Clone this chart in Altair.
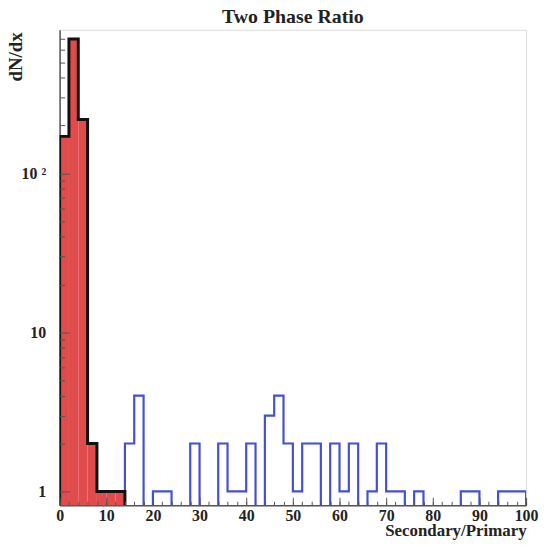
import altair as alt
import pandas as pd

# ---- data ----
bin_width = 2
red_counts = [171, 700, 218, 2, 1, 1, 1]          # bins 0-2 ... 12-14
blue_start = 14
blue_counts = [2, 4, 0, 1, 1, 0, 0, 2, 0, 0,
               2, 1, 1, 2, 0, 3, 4, 2, 1, 2,
               2, 0, 2, 1, 2, 0, 1, 2, 1, 1,
               0, 1, 0, 0, 0, 0, 1, 1, 0, 0,
               1, 1, 1]                             # bins 14-16 ... 98-100
x_major = [0, 10, 20, 30, 40, 50, 60, 70, 80, 90, 100]
x_minor = list(range(0, 101, 2))
y_major = [1, 10, 100]
y_minor = [2, 3, 4, 5, 6, 7, 8, 9, 20, 30, 40, 50, 60, 70, 80, 90,
           200, 300, 400, 500, 600, 700]

FLOOR = 0.5   # below the axis minimum; clipped away (represents empty bins)


def step_table(start, counts):
    rows = [{"x": start, "y": FLOOR, "i": 0}]
    for k, c in enumerate(counts):
        rows.append({"x": start + k * bin_width, "y": c if c > 0 else FLOOR, "i": k + 1})
    rows.append({"x": start + len(counts) * bin_width, "y": FLOOR, "i": len(counts) + 1})
    return pd.DataFrame(rows)


red_step = step_table(0, red_counts)
blue_step = step_table(blue_start, blue_counts)
red_bins = pd.DataFrame({
    "x0": [k * bin_width for k in range(len(red_counts))],
    "x1": [(k + 1) * bin_width for k in range(len(red_counts))],
    "count": red_counts,
    "base": [FLOOR] * len(red_counts),
})

W, H = 470, 479
FONT = "Liberation Serif"
AX = "#555555"

xs = alt.Scale(domain=[0, 100], nice=False, zero=False)
ys = alt.Scale(type="log", domain=[0.818, 800], nice=False)

# main axes (labels, titles, domain)
x_main = alt.Axis(orient="bottom", values=x_major, ticks=False, grid=False,
                  domainColor=AX, domainWidth=1.5,
                  labelFont=FONT, labelFontSize=16, labelFontWeight="bold",
                  labelColor="#222", labelPadding=2, labelFlush=False,
                  title="Secondary/Primary", titleFont=FONT, titleFontSize=17,
                  titleFontWeight="bold", titleColor="#222",
                  titleBaseline="alphabetic", titleAlign="right",
                  titleX=W, titleY=30.5)
y_main = alt.Axis(orient="left", values=y_major, ticks=False, grid=False,
                  domainColor=AX, domainWidth=1.5,
                  labelExpr="datum.value == 100 ? '10 ²' : datum.label",
                  labelFont=FONT, labelFontSize=16, labelFontWeight="bold",
                  labelColor="#222", labelPadding=14,
                  title="dN/dx", titleFont=FONT, titleFontSize=19,
                  titleFontWeight="bold", titleColor="#222",
                  titleAngle=270, titleBaseline="alphabetic", titleAlign="right",
                  titleX=-38, titleY=2)

# inside tick axes (mirrored axes moved onto the opposite edge)
x_minor_ax = alt.Axis(orient="top", offset=-H, values=x_minor, labels=False,
                      domain=False, grid=False, title=None, tickSize=4,
                      tickColor=AX, tickWidth=1, zindex=1)
y_minor_ax = alt.Axis(orient="right", offset=-W, values=y_minor, labels=False,
                      domain=False, grid=False, title=None, tickSize=5,
                      tickColor=AX, tickWidth=1, zindex=1)
x_major_ax = alt.Axis(orient="top", offset=-H, values=x_major, labels=False,
                      domain=False, grid=False, title=None, tickSize=8,
                      tickColor=AX, tickWidth=1, zindex=1)
y_major_ax = alt.Axis(orient="right", offset=-W, values=y_major, labels=False,
                      domain=False, grid=False, title=None, tickSize=10,
                      tickColor=AX, tickWidth=1, zindex=1)

blue = alt.Chart(blue_step).mark_line(interpolate="step-after", color="#4350d2",
                                      strokeWidth=2.2, clip=True).encode(
    x=alt.X("x:Q", scale=xs, axis=x_minor_ax),
    y=alt.Y("y:Q", scale=ys, axis=y_minor_ax),
    order="i:Q",
)

red = alt.Chart(red_bins).mark_rect(color="#e04b4b", clip=True).encode(
    x=alt.X("x0:Q", scale=xs, axis=x_main),
    x2="x1:Q",
    y=alt.Y("count:Q", scale=ys, axis=y_main),
    y2="base:Q",
)

outline = alt.Chart(red_step).mark_line(interpolate="step-after", color="#111111",
                                        strokeWidth=3, clip=True).encode(
    x=alt.X("x:Q", scale=xs, axis=x_major_ax),
    y=alt.Y("y:Q", scale=ys, axis=y_major_ax),
    order="i:Q",
)

chart = alt.layer(blue, red, outline).resolve_axis(
    x="independent", y="independent"
).properties(
    width=W, height=H,
    title=alt.TitleParams("Two Phase Ratio", font=FONT, fontSize=20,
                          fontWeight="bold", color="#222", anchor="middle",
                          offset=3),
    autosize=alt.AutoSizeParams(type="none"),
    padding={"left": 52, "top": 20, "right": 13, "bottom": 34},
).configure_view(stroke="#888888", strokeWidth=1).configure(background="white")

chart.save("out.html", embed_options={"renderer": "svg", "actions": False})
